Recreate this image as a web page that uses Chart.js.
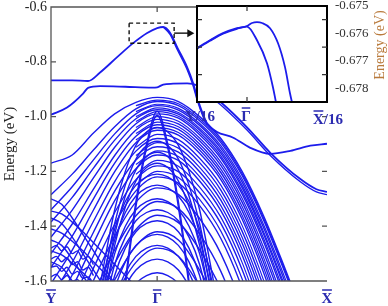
<!DOCTYPE html>
<html>
<head>
<meta charset="utf-8">
<script src="https://cdn.jsdelivr.net/npm/chart.js@4"></script>
<style>
  html, body { margin: 0; padding: 0; background: #fff; }
  #wrap { position: relative; width: 388px; height: 306px; }
  #main { position: absolute; left: 0; top: 0; }
  #inset { position: absolute; left: 180px; top: 0; }
</style>
</head>
<body>
<div id="wrap">
  <canvas id="main" width="388" height="306"></canvas>
  <canvas id="inset" width="208" height="130"></canvas>
</div>
<script>
// k path: Ybar = -1, Gamma = 0, Xbar = 1.6 (lengths)
const kTicks = [-1, 0, 1.6];
const kNames = ['Y', 'Γ', 'X'];
const yTicks = [-0.6, -0.8, -1.0, -1.2, -1.4, -1.6];

// bulk "dome" bands
const kDome = [-1, -0.8, -0.6, -0.4, -0.2, 0, 0.2, 0.4, 0.6, 0.8, 1.0, 1.2, 1.4];
const domeBands = [
  [-1.17, -1.14, -1.06, -0.99, -0.948, -0.93, -0.945, -1.00, -1.08, -1.20, -1.36, -1.55, -1.75],
  [-1.285, -1.21, -1.122, -1.037, -0.972, -0.945, -0.96, -1.015, -1.095, -1.215, -1.375, -1.565, -1.765],
  [-1.34, -1.256, -1.158, -1.063, -0.99, -0.96, -0.976, -1.032, -1.115, -1.238, -1.403, -1.599, -1.805],
  [-1.385, -1.295, -1.188, -1.086, -1.008, -0.975, -0.991, -1.049, -1.133, -1.259, -1.427, -1.626, -1.836],
  [-1.44, -1.341, -1.224, -1.112, -1.026, -0.99, -1.006, -1.066, -1.152, -1.282, -1.454, -1.66, -1.876],
  [-1.50, -1.392, -1.265, -1.142, -1.049, -1.01, -1.027, -1.088, -1.178, -1.312, -1.492, -1.704, -1.93],
  [-1.55, -1.436, -1.30, -1.17, -1.072, -1.03, -1.047, -1.111, -1.204, -1.343, -1.529, -1.749, -1.95],
  [-1.61, -1.487, -1.341, -1.201, -1.095, -1.05, -1.068, -1.134, -1.23, -1.374, -1.566, -1.794, -2.0],
  [-1.66, -1.532, -1.382, -1.237, -1.126, -1.08, -1.099, -1.168, -1.268, -1.418, -1.618, -1.855, -2.1],
  [-1.71, -1.578, -1.422, -1.272, -1.158, -1.11, -1.13, -1.201, -1.305, -1.461, -1.669, -1.916, -2.2],
  [-1.76, -1.624, -1.462, -1.307, -1.19, -1.14, -1.16, -1.235, -1.343, -1.505, -1.721, -1.98, -2.2],
  [-1.81, -1.671, -1.508, -1.35, -1.23, -1.18, -1.201, -1.278, -1.39, -1.558, -1.782, -2.05, -2.3],
  [-1.86, -1.72, -1.553, -1.393, -1.271, -1.22, -1.243, -1.325, -1.445, -1.625, -1.865, -2.15, -2.45],
  [-1.91, -1.767, -1.598, -1.436, -1.312, -1.26, -1.284, -1.372, -1.50, -1.692, -1.95, -2.25, -2.55],
  [-1.96, -1.817, -1.648, -1.486, -1.362, -1.31, -1.336, -1.429, -1.565, -1.769, -2.04, -2.35, -2.7],
  [-2.01, -1.867, -1.698, -1.536, -1.412, -1.36, -1.387, -1.486, -1.63, -1.846, -2.13, -2.45, -2.8],
  [-2.07, -1.927, -1.758, -1.596, -1.472, -1.42, -1.45, -1.56, -1.72, -1.96, -2.28, -2.6, -3.0],
  [-2.13, -1.987, -1.818, -1.656, -1.532, -1.48, -1.51, -1.62, -1.78, -2.02, -2.34, -2.7, -3.1]
];

// split partners of the domes, seen on the Gamma-X side
const kTwin = [-0.2, 0, 0.2, 0.4, 0.6, 0.8, 1.0, 1.2, 1.4];
const twinBands = [
  [-0.96, -0.94, -0.953, -1.008, -1.088, -1.208, -1.368, -1.558, -1.76],
  [-0.982, -0.955, -0.97, -1.025, -1.106, -1.228, -1.392, -1.585, -1.79],
  [-1.0, -0.968, -0.985, -1.042, -1.125, -1.25, -1.418, -1.615, -1.82],
  [-1.018, -0.982, -0.999, -1.058, -1.143, -1.272, -1.442, -1.645, -1.86],
  [-1.04, -1.0, -1.017, -1.078, -1.166, -1.298, -1.475, -1.685, -1.9],
  [-1.062, -1.02, -1.037, -1.1, -1.192, -1.328, -1.512, -1.73, -1.95],
  [-1.085, -1.04, -1.058, -1.122, -1.218, -1.36, -1.548, -1.77, -2.0],
  [-1.112, -1.065, -1.084, -1.152, -1.25, -1.397, -1.594, -1.826, -2.05],
  [-1.142, -1.095, -1.115, -1.185, -1.287, -1.44, -1.645, -1.886, -2.1],
  [-1.175, -1.125, -1.146, -1.219, -1.325, -1.484, -1.696, -1.95, -2.2],
  [-1.21, -1.16, -1.181, -1.257, -1.367, -1.532, -1.752, -2.0, -2.3],
  [-1.25, -1.20, -1.222, -1.302, -1.418, -1.592, -1.82, -2.1, -2.4]
];

// narrow bands capped at Gamma
const kCap = [-0.55, -0.4, -0.3, -0.2, -0.1, 0, 0.1, 0.2, 0.3, 0.4, 0.55];
const capBands = [
  [-2.4, -1.95, -1.60, -1.31, -1.10, -0.98, -1.10, -1.31, -1.60, -1.95, -2.4],
  [-2.42, -1.97, -1.62, -1.33, -1.115, -0.995, -1.115, -1.33, -1.62, -1.97, -2.42],
  [-1.64, -1.34, -1.20, -1.105, -1.056, -1.04, -1.056, -1.105, -1.20, -1.34, -1.64],
  [-1.69, -1.39, -1.25, -1.155, -1.106, -1.09, -1.106, -1.155, -1.25, -1.39, -1.69],
  [-1.73, -1.43, -1.29, -1.195, -1.146, -1.13, -1.146, -1.195, -1.29, -1.43, -1.73],
  [-1.77, -1.47, -1.33, -1.235, -1.186, -1.17, -1.186, -1.235, -1.33, -1.47, -1.77],
  [-1.66, -1.41, -1.31, -1.25, -1.22, -1.21, -1.22, -1.25, -1.31, -1.41, -1.66],
  [-1.70, -1.45, -1.35, -1.29, -1.26, -1.25, -1.26, -1.29, -1.35, -1.45, -1.70],
  [-1.75, -1.50, -1.40, -1.34, -1.31, -1.30, -1.31, -1.34, -1.40, -1.50, -1.75],
  [-1.79, -1.54, -1.44, -1.38, -1.35, -1.34, -1.35, -1.38, -1.44, -1.54, -1.79],
  [-1.83, -1.58, -1.48, -1.42, -1.39, -1.38, -1.39, -1.42, -1.48, -1.58, -1.83],
  [-1.88, -1.63, -1.53, -1.47, -1.44, -1.43, -1.44, -1.47, -1.53, -1.63, -1.88],
  [-1.92, -1.67, -1.57, -1.51, -1.48, -1.47, -1.48, -1.51, -1.57, -1.67, -1.92],
  [-1.97, -1.72, -1.62, -1.56, -1.53, -1.52, -1.53, -1.56, -1.62, -1.72, -1.97],
  [-2.02, -1.77, -1.67, -1.61, -1.58, -1.57, -1.58, -1.61, -1.67, -1.77, -2.02]
];

// bands falling away from Ybar
const kDesc = [-1, -0.9, -0.8, -0.7, -0.6, -0.5, -0.4, -0.3, -0.2, -0.1, 0];
const descBands = [
  [-1.30, -1.32, -1.37, -1.43, -1.49, -1.55, -1.61, -1.67],
  [-1.345, -1.355, -1.385, -1.42, -1.46, -1.50, -1.54, -1.58, -1.62, -1.66],
  [-1.37, -1.39, -1.44, -1.50, -1.56, -1.62, -1.68],
  [-1.41, -1.425, -1.455, -1.49, -1.53, -1.57, -1.61, -1.65],
  [-1.45, -1.47, -1.52, -1.58, -1.64],
  [-1.49, -1.505, -1.535, -1.57, -1.61, -1.65],
  [-1.53, -1.55, -1.60, -1.66]
];

// wavy bands near Ybar
const kWiggle = [-1, -0.95, -0.9, -0.85, -0.8, -0.75, -0.7, -0.65, -0.6];
const wiggleBands = [
  [-1.48, -1.47, -1.49, -1.475, -1.50, -1.49, -1.52, -1.51, -1.54],
  [-1.52, -1.51, -1.53, -1.515, -1.54, -1.53, -1.56, -1.55, -1.58],
  [-1.55, -1.545, -1.565, -1.55, -1.575, -1.565, -1.59, -1.585, -1.61],
  [-1.585, -1.575, -1.595, -1.58, -1.60, -1.595, -1.62, -1.61, -1.64]
];

// surface bands
const kTop = [-1, -0.8, -0.651, -0.538, -0.377, -0.226, -0.094, 0, 0.057, 0.123, 0.189, 0.283, 0.34, 0.377, 0.43, 0.472, 0.56, 0.717, 0.877, 1.066, 1.255, 1.443, 1.6];
const topBand = [-0.868, -0.868, -0.870, -0.839, -0.783, -0.732, -0.695, -0.677, -0.673, -0.695, -0.747, -0.820, -0.879, -0.930, -0.990, -1.026, -1.055, -1.077, -1.114, -1.136, -1.125, -1.106, -1.099];
const kTopSplit = [0.057, 0.123, 0.189, 0.283, 0.34, 0.377, 0.43, 0.472];
const topSplit = [-0.673, -0.701, -0.755, -0.829, -0.889, -0.94, -0.998, -1.03];
const kSecond = [-1, -0.849, -0.698, -0.651, -0.538, -0.3, -0.05, 0, 0.057, 0.15, 0.283, 0.377, 0.453, 0.613, 0.849, 1.066, 1.349, 1.5, 1.6];
const secondBand = [-0.993, -0.967, -0.916, -0.895, -0.889, -0.891, -0.894, -0.893, -0.883, -0.880, -0.879, -0.886, -0.905, -0.952, -1.040, -1.132, -1.228, -1.265, -1.275];
const kSecondSplit = [0.377, 0.453, 0.613, 0.849, 1.066, 1.349, 1.5, 1.6];
const secondSplit = [-0.888, -0.912, -0.962, -1.050, -1.142, -1.238, -1.275, -1.285];

// inset (zoom near Gamma)
const kInsetTicks = [-0.0625, 0, 0.1];
const insetTickNames = ['Y/16', 'Γ', 'X/16'];
const eInsetTicks = [-0.675, -0.676, -0.677, -0.678];
const kInsetA = [-0.0625, -0.0463, -0.03, -0.0125, 0, 0.0063, 0.0125, 0.0188, 0.0288, 0.0388, 0.0475, 0.0538, 0.0563, 0.06];
const insetA = [-0.67654, -0.67625, -0.67599, -0.67581, -0.67573, -0.67562, -0.67559, -0.67562, -0.67581, -0.67636, -0.67723, -0.67819, -0.67852, -0.679];
const kInsetB = [-0.0625, -0.0463, -0.03, -0.0125, 0, 0.0125, 0.025, 0.0325, 0.0363, 0.04];
const insetB = [-0.67656, -0.67627, -0.67601, -0.67583, -0.67575, -0.67625, -0.67709, -0.67797, -0.67852, -0.679];

const bandColor = 'rgb(28,28,236)';
const labelColor = '#2b2bb0';
const serif = "Liberation Serif, Times New Roman, Times, serif";

function band(ks, es, w) {
  return {
    data: es.map((e, i) => ({ x: ks[i], y: e })),
    borderColor: bandColor,
    borderWidth: w || 1.4,
    pointRadius: 0,
    fill: false,
    cubicInterpolationMode: 'monotone'
  };
}

const mainSets = [];
domeBands.forEach(b => mainSets.push(band(kDome, b)));
twinBands.forEach(b => mainSets.push(band(kTwin, b, 1.2)));
capBands.forEach(b => mainSets.push(band(kCap, b)));
descBands.forEach(b => mainSets.push(band(kDesc, b)));
wiggleBands.forEach(b => mainSets.push(band(kWiggle, b)));
mainSets.push(band(kTop, topBand, 1.8));
mainSets.push(band(kTopSplit, topSplit, 1.4));
mainSets.push(band(kSecond, secondBand, 1.8));
mainSets.push(band(kSecondSplit, secondSplit, 1.4));

// draws label text with an overline above the first n characters
function barLabel(ctx, text, cx, base, n, lift) {
  ctx.fillText(text, cx, base);
  if (!n) return;
  const w = ctx.measureText(text).width;
  const wb = ctx.measureText(text.slice(0, n)).width;
  const left = cx - w / 2;
  ctx.beginPath();
  ctx.moveTo(left + 0.5, base - lift);
  ctx.lineTo(left + wb - 0.5, base - lift);
  ctx.stroke();
}

const mainDecor = {
  id: 'mainDecor',
  afterDatasetsDraw(chart) {
    const { ctx, chartArea: a, scales: { x, y } } = chart;
    ctx.save();
    ctx.strokeStyle = '#555';
    ctx.lineWidth = 1.3;
    ctx.beginPath();
    ctx.moveTo(a.right, a.top); ctx.lineTo(a.left, a.top);
    ctx.lineTo(a.left, a.bottom); ctx.lineTo(a.right, a.bottom);
    yTicks.forEach(v => {
      const py = y.getPixelForValue(v);
      ctx.moveTo(a.left, py); ctx.lineTo(a.left + 5, py);
      ctx.moveTo(a.right, py); ctx.lineTo(a.right - 5, py);
    });
    const gx = x.getPixelForValue(0);
    ctx.moveTo(gx, a.top); ctx.lineTo(gx, a.top + 5);
    ctx.moveTo(gx, a.bottom); ctx.lineTo(gx, a.bottom - 5);
    ctx.stroke();

    // Ybar, Gamma, Xbar
    ctx.fillStyle = labelColor;
    ctx.strokeStyle = labelColor;
    ctx.lineWidth = 1.5;
    ctx.font = 'bold 15px ' + serif;
    ctx.textAlign = 'center';
    ctx.textBaseline = 'alphabetic';
    kTicks.forEach((k, i) => barLabel(ctx, kNames[i], x.getPixelForValue(k), 303, 1, 13));

    // dashed box round the zoomed region + arrow to the inset
    const bx0 = x.getPixelForValue(-0.264), bx1 = x.getPixelForValue(0.16);
    const by0 = y.getPixelForValue(-0.6587), by1 = y.getPixelForValue(-0.7321);
    ctx.strokeStyle = '#111';
    ctx.lineWidth = 1.4;
    ctx.setLineDash([4, 3]);
    ctx.strokeRect(bx0, by0, bx1 - bx0, by1 - by0);
    ctx.setLineDash([]);
    const ay = y.getPixelForValue(-0.6954);
    const ax1 = x.getPixelForValue(0.35);
    ctx.beginPath();
    ctx.moveTo(bx1, ay); ctx.lineTo(ax1 - 5, ay);
    ctx.stroke();
    ctx.fillStyle = '#111';
    ctx.beginPath();
    ctx.moveTo(ax1, ay); ctx.lineTo(ax1 - 7, ay - 4); ctx.lineTo(ax1 - 7, ay + 4);
    ctx.closePath();
    ctx.fill();
    ctx.restore();
  }
};

new Chart(document.getElementById('main'), {
  type: 'line',
  data: { datasets: mainSets },
  options: {
    responsive: false,
    animation: false,
    events: [],
    layout: { padding: { top: 7, right: 61, bottom: 25, left: 0 } },
    plugins: { legend: { display: false }, tooltip: { enabled: false } },
    scales: {
      x: { type: 'linear', min: -1, max: 1.6, display: false },
      y: {
        min: -1.6, max: -0.6,
        afterBuildTicks: s => { s.ticks = yTicks.map(v => ({ value: v })); },
        afterFit: s => { s.width = 51; s.paddingTop = 0; s.paddingBottom = 0; },
        grid: { display: false, drawTicks: false },
        border: { display: false },
        ticks: {
          padding: 4, color: '#222',
          font: { family: serif, size: 14 },
          callback: v => v.toFixed(1)
        },
        title: {
          display: true, text: 'Energy (eV)', color: '#222',
          font: { family: serif, size: 15 },
          padding: { top: 1, bottom: 0 }
        }
      }
    }
  },
  plugins: [mainDecor]
});

const insetDecor = {
  id: 'insetDecor',
  beforeDatasetsDraw(chart) {
    const { ctx, chartArea: a } = chart;
    ctx.save();
    ctx.fillStyle = '#fff';
    ctx.fillRect(a.left, a.top, a.right - a.left, a.bottom - a.top);
    ctx.restore();
  },
  afterDatasetsDraw(chart) {
    const { ctx, chartArea: a, scales: { x, y } } = chart;
    ctx.save();
    ctx.strokeStyle = '#000';
    ctx.lineWidth = 2;
    ctx.strokeRect(a.left, a.top, a.right - a.left, a.bottom - a.top);
    ctx.lineWidth = 1.2;
    ctx.strokeStyle = '#333';
    ctx.beginPath();
    [-0.6755, -0.6765, -0.6775].forEach(v => {
      const py = y.getPixelForValue(v);
      ctx.moveTo(a.left, py); ctx.lineTo(a.left + 5, py);
      ctx.moveTo(a.right, py); ctx.lineTo(a.right - 5, py);
    });
    const gx = x.getPixelForValue(0);
    ctx.moveTo(gx, a.top); ctx.lineTo(gx, a.top + 5);
    ctx.moveTo(gx, a.bottom); ctx.lineTo(gx, a.bottom - 5);
    ctx.stroke();

    ctx.fillStyle = labelColor;
    ctx.strokeStyle = labelColor;
    ctx.lineWidth = 1.5;
    ctx.font = 'bold 15px ' + serif;
    ctx.textAlign = 'center';
    barLabel(ctx, insetTickNames[0], x.getPixelForValue(kInsetTicks[0]) + 3, 121, 0, 13);
    barLabel(ctx, insetTickNames[1], gx - 1, 121, 1, 13);
    barLabel(ctx, insetTickNames[2], x.getPixelForValue(kInsetTicks[2]) + 1, 124, 1, 13);

    // right-hand axis title, reading upwards
    ctx.translate(200, 45);
    ctx.rotate(-Math.PI / 2);
    ctx.fillStyle = '#b97a3c';
    ctx.font = '14px ' + serif;
    ctx.textBaseline = 'middle';
    ctx.fillText('Energy (eV)', 0, 0);
    ctx.restore();
  }
};

new Chart(document.getElementById('inset'), {
  type: 'line',
  data: {
    datasets: [band(kInsetA, insetA, 1.8), band(kInsetB, insetB, 1.8)]
  },
  options: {
    responsive: false,
    animation: false,
    events: [],
    layout: { padding: { top: 6, right: 0, bottom: 28, left: 17 } },
    plugins: { legend: { display: false }, tooltip: { enabled: false } },
    scales: {
      x: { type: 'linear', min: -0.0625, max: 0.1, display: false },
      y: {
        position: 'right',
        min: -0.6785, max: -0.675,
        afterBuildTicks: s => { s.ticks = eInsetTicks.map(v => ({ value: v })); },
        afterFit: s => { s.width = 61; s.paddingTop = 0; s.paddingBottom = 0; },
        grid: { display: false, drawTicks: false },
        border: { display: false },
        ticks: {
          padding: 8, color: '#333',
          font: { family: serif, size: 13 },
          callback: v => v.toFixed(3)
        }
      }
    }
  },
  plugins: [insetDecor]
});
</script>
</body>
</html>
